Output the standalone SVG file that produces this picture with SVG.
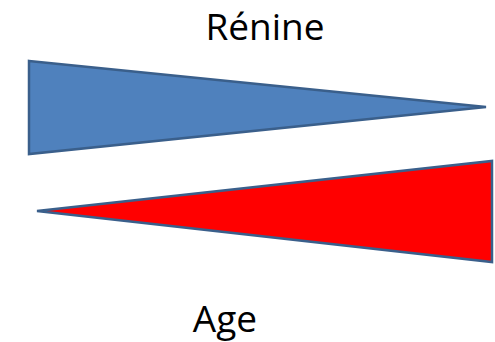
<svg xmlns="http://www.w3.org/2000/svg" width="495" height="342" viewBox="0 0 495 342">
  <style>
    .wedge { stroke: #3A5F8B; stroke-width: 2.5; stroke-linejoin: miter; }
    .label { font-family: "Open Sans", "Liberation Sans", sans-serif; font-size: 37px; fill: #000; text-anchor: middle; }
  </style>
  <rect width="495" height="342" fill="#fff"/>
  <g id="renine">
    <polygon class="wedge" points="29,61 486,107 29,154" fill="#4F81BD"/>
    <text class="label" x="265" y="40">Rénine</text>
  </g>
  <g id="age">
    <polygon class="wedge" points="37,211 492,161 492,262" fill="#FF0000"/>
    <text class="label" x="225" y="332">Age</text>
  </g>
</svg>
